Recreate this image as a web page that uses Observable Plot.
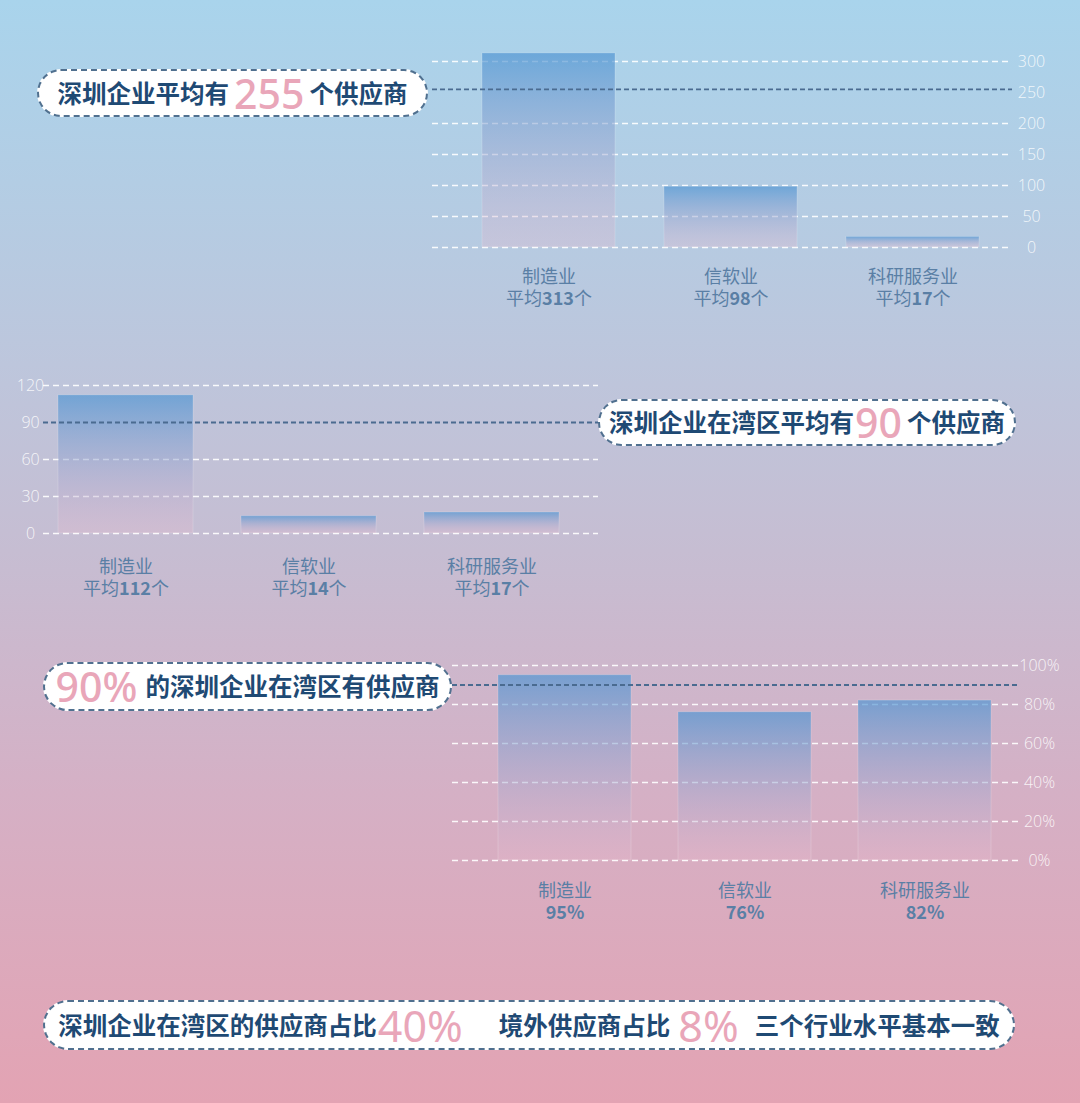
<!DOCTYPE html>
<html><head><meta charset="utf-8">
<script src="https://cdn.jsdelivr.net/npm/d3@7"></script>
<script src="https://cdn.jsdelivr.net/npm/@observablehq/plot@0.6"></script>
<style>
body{margin:0;}
#page{position:relative;width:1080px;height:1103px;overflow:hidden;
 background:linear-gradient(180deg,#a9d4ec 0%,#bdc6dc 33%,#c6bdd2 50%,#d5b0c5 72%,#e3a3b3 100%);
 font-family:"Noto Sans CJK SC","Noto Sans",sans-serif;}
.chart{position:absolute;left:0;}
.pill{position:absolute;box-sizing:border-box;background:#fff;border:2px dashed #50708f;border-radius:30px;
 display:flex;align-items:center;justify-content:center;color:#1f4a74;font-weight:700;font-size:24.5px;white-space:nowrap;}
.pill .row{display:flex;align-items:center;line-height:1;}
.pill .num{color:#e9a6b9;font-size:41px;font-weight:500;font-family:"Noto Sans","Noto Sans CJK SC",sans-serif;line-height:1;}
.pill .lite{font-weight:400;font-size:43px;}
</style></head>
<body>
<svg width="0" height="0" style="position:absolute"><defs>
<linearGradient id="barGrad" x1="0" y1="0" x2="0" y2="1">
<stop offset="0" stop-color="rgb(78,148,210)" stop-opacity="0.68"/>
<stop offset="1" stop-color="rgb(232,185,205)" stop-opacity="0.3"/>
</linearGradient></defs></svg>
<div id="page"></div>
<script>
const categories = ["制造业", "信软业", "科研服务业"];
const avgSuppliers = [313, 98, 17];
const avgBaySuppliers = [112, 14, 17];
const shareWithBay = [95, 76, 82];
const ticksAvg = [0, 50, 100, 150, 200, 250, 300];
const ticksBay = [0, 30, 60, 90, 120];
const ticksShare = [0, 20, 40, 60, 80, 100];
const overallAvg = 255;
const overallBayAvg = 90;
const overallShare = 90;
const bayPct = 40;
const overseasPct = 8;

const page = document.getElementById("page");
const LABEL_FONT = '"Noto Sans CJK SC"';
const LABEL_SIZE = 18;
const LABEL_COLOR = "#5a7fa5";
const ctx = document.createElement("canvas").getContext("2d");
function textWidth(s, weight) {
  ctx.font = `${weight} ${LABEL_SIZE}px ${LABEL_FONT}`;
  return ctx.measureText(s).width;
}

function barChart(values, ticks, ref, o) {
  const data = categories.map((c, i) => ({c, v: values[i]}));
  const common = {x: "c", frameAnchor: "bottom", lineAnchor: "top", fontSize: LABEL_SIZE, fill: LABEL_COLOR};
  const labelMarks = [];
  data.forEach(d => {
    const parts = o.parts(d.v);
    const widths = parts.map(([s, w]) => textWidth(s, w));
    const total = d3.sum(widths);
    let off = -total / 2;
    parts.forEach(([s, w], j) => {
      labelMarks.push(Plot.text([d], {...common, dy: o.dy + 22, dx: off, textAnchor: "start",
        text: () => s, fontWeight: w}));
      off += widths[j];
    });
  });
  const plot = Plot.plot({
    width: 1080, height: o.height,
    marginTop: o.mT, marginBottom: o.mB, marginLeft: o.mL, marginRight: o.mR,
    style: {background: "transparent", overflow: "visible", fontFamily: "'Noto Sans CJK SC', sans-serif"},
    x: {domain: categories, paddingInner: o.pI, paddingOuter: o.pO, align: o.align, axis: null},
    y: {domain: [ticks[0], ticks[ticks.length - 1]], axis: null},
    marks: [
      Plot.ruleY(ticks.filter(t => Math.abs(t - ref) > (ticks[1] - ticks[0]) / 4),
        {stroke: "#fff", strokeOpacity: 0.9, strokeDasharray: "6,4", strokeWidth: 1.4}),
      Plot.barY(data, {x: "c", y: "v", fill: "url(#barGrad)", stroke: "#fff", strokeOpacity: 0.18, strokeWidth: 1}),
      Plot.ruleY([ref], {stroke: "#4a6b90", strokeDasharray: "5,3", strokeWidth: 1.8}),
      Plot.axisY(ticks, {anchor: o.axis, label: null, tickSize: 0, tickPadding: o.pad, textAnchor: "middle",
        tickFormat: o.fmt, fill: "#fff", fillOpacity: 0.85, fontSize: 16, fontWeight: 300,
        fontFamily: "'Open Sans', 'Noto Sans', sans-serif"}),
      Plot.text(data, {...common, dy: o.dy, text: "c"}),
      ...labelMarks
    ]
  });
  plot.classList.add("chart");
  plot.style.top = o.top + "px";
  page.append(plot);
}

const avgParts = v => [["平均", "normal"], [String(v), "bold"], ["个", "normal"]];
barChart(avgSuppliers, ticksAvg, overallAvg, {top: 0, height: 320, mT: 61, mB: 73, mL: 432, mR: 68,
  pI: 0.27, pO: 0.22, align: 0.6, axis: "right", pad: 19, dy: 23, fmt: d => d, parts: avgParts});
barChart(avgBaySuppliers, ticksBay, overallBayAvg, {top: 340, height: 280, mT: 45, mB: 87, mL: 43, mR: 482,
  pI: 0.264, pO: 0.144, align: 0.28, axis: "left", pad: 13, dy: 27, fmt: d => d, parts: avgParts});
barChart(shareWithBay, ticksShare, overallShare, {top: 630, height: 320, mT: 35, mB: 90, mL: 452, mR: 60,
  pI: 0.263, pO: 0.205, align: 0.61, axis: "right", pad: 19, dy: 24, fmt: d => d + "%",
  parts: v => [[v + "%", "bold"]]});

function pill(x, y, w, h, parts) {
  const p = document.createElement("div");
  p.className = "pill";
  Object.assign(p.style, {left: x + "px", top: y + "px", width: w + "px", height: h + "px"});
  const row = document.createElement("div");
  row.className = "row";
  parts.forEach(([txt, cls, ml, mr]) => {
    const s = document.createElement("span");
    if (cls) s.className = cls;
    s.textContent = txt;
    s.style.marginLeft = (ml || 0) + "px";
    s.style.marginRight = (mr || 0) + "px";
    row.append(s);
  });
  p.append(row);
  page.append(p);
}

pill(37, 69, 391, 48, [["深圳企业平均有"], [String(overallAvg), "num", 5, 5], ["个供应商"]]);
pill(598, 399, 418, 47, [["深圳企业在湾区平均有"], [String(overallBayAvg), "num", 1, 5], ["个供应商"]]);
pill(43, 662, 409, 49, [[overallShare + "%", "num", 0, 8], ["的深圳企业在湾区有供应商"]]);
pill(43, 1000, 972, 50, [["深圳企业在湾区的供应商占比"], [bayPct + "%", "num lite", 1, 36], ["境外供应商占比"],
  [overseasPct + "%", "num lite", 8, 16], ["三个行业水平基本一致"]]);
</script>
</body></html>
